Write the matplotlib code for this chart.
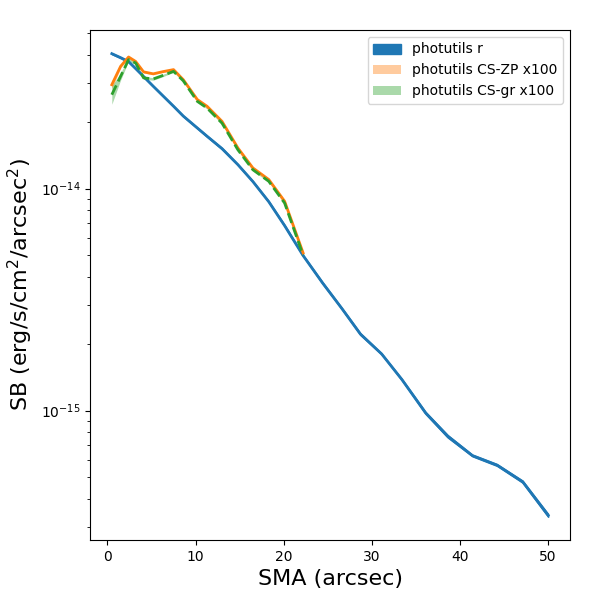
import matplotlib
matplotlib.use('Agg')
import matplotlib.pyplot as plt
import numpy as np

# Semi-major axis grid (arcsec)
sma_r = [0.5, 1.5, 2.4, 3.2, 4.1, 5.2, 6.3, 7.5, 8.6, 10.2, 11.3, 13.0, 14.8, 16.5,
         18.3, 20.1, 22.2, 24.4, 26.6, 28.7, 31.1, 33.4, 36.1, 38.6, 41.4, 44.2, 47.1, 50.0]
sma_cs = sma_r[:17]

# Surface brightness (erg/s/cm^2/arcsec^2)
sb_r = [4.055e-14, 3.890e-14, 3.733e-14, 3.475e-14, 3.199e-14, 2.891e-14, 2.618e-14,
        2.350e-14, 2.123e-14, 1.875e-14, 1.722e-14, 1.514e-14, 1.282e-14, 1.076e-14,
        8.73e-15, 6.81e-15, 4.99e-15, 3.76e-15, 2.88e-15, 2.21e-15, 1.80e-15, 1.38e-15,
        9.75e-16, 7.66e-16, 6.27e-16, 5.68e-16, 4.78e-16, 3.37e-16]
sb_zp = [2.938e-14, 3.556e-14, 3.917e-14, 3.741e-14, 3.357e-14, 3.289e-14, 3.365e-14,
         3.436e-14, 3.097e-14, 2.518e-14, 2.350e-14, 2.009e-14, 1.524e-14, 1.239e-14,
         1.099e-14, 8.77e-15, 5.13e-15]
sb_gr = [2.649e-14, 3.206e-14, 3.811e-14, 3.681e-14, 3.155e-14, 3.119e-14, 3.236e-14,
         3.373e-14, 3.062e-14, 2.472e-14, 2.307e-14, 1.972e-14, 1.496e-14, 1.216e-14,
         1.079e-14, 8.61e-15, 5.01e-15]

# Uncertainties
err_r = [2e-16, 2e-16, 2e-16, 2e-16, 2e-16, 1e-16, 1e-16, 1e-16, 1e-16, 1e-16, 1e-16,
         1e-16, 5e-17, 5e-17, 5e-17, 5e-17, 3e-17, 3e-17, 2e-17, 2e-17, 1e-17, 1e-17,
         1e-17, 1e-17, 5e-18, 5e-18, 5e-18, 5e-18]
err_zp = [1.2e-15, 6e-16, 4e-16, 4e-16, 4e-16, 3e-16, 3e-16, 3e-16, 3e-16, 2e-16, 2e-16,
          2e-16, 1.5e-16, 1.2e-16, 1e-16, 1e-16, 8e-17]
err_gr = [2.5e-15, 1.2e-15, 6e-16, 5e-16, 5e-16, 4e-16, 4e-16, 3e-16, 3e-16, 2e-16, 2e-16,
          2e-16, 1.5e-16, 1.2e-16, 1e-16, 1e-16, 8e-17]

sma_r = np.array(sma_r)
sma_cs = np.array(sma_cs)
sb_r, sb_zp, sb_gr = np.array(sb_r), np.array(sb_zp), np.array(sb_gr)
err_r, err_zp, err_gr = np.array(err_r), np.array(err_zp), np.array(err_gr)

fig = plt.figure(figsize=(6, 6), dpi=100)
ax = fig.add_axes([0.15, 0.1, 0.8, 0.85])

ax.fill_between(sma_r, sb_r - err_r, sb_r + err_r, color='C0', label='photutils r')
ax.plot(sma_r, sb_r, color='C0', lw=2)

ax.fill_between(sma_cs, sb_zp - err_zp, sb_zp + err_zp, color='C1', alpha=0.4,
                lw=0, label='photutils CS-ZP x100')
ax.plot(sma_cs, sb_zp, color='C1', lw=2)

ax.fill_between(sma_cs, sb_gr - err_gr, sb_gr + err_gr, color='C2', alpha=0.4,
                lw=0, label='photutils CS-gr x100')
ax.plot(sma_cs, sb_gr, color='C2', lw=2, ls='--')

ax.set_yscale('log')
ax.set_xlabel('SMA (arcsec)', fontsize=16)
ax.set_ylabel('SB (erg/s/cm$^2$/arcsec$^2$)', fontsize=16)
ax.legend(loc='upper right')

fig.savefig('out.png', dpi=100)
